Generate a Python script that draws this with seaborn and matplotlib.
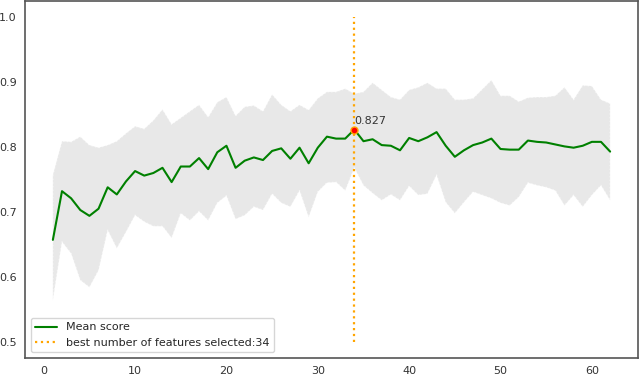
import numpy as np
import pandas as pd
import matplotlib
matplotlib.use('Agg')
import matplotlib.pyplot as plt
import seaborn as sns

# nombre de features testées
n_features = list(range(1, 63))

# score moyen par nombre de features
mean_score = [0.657, 0.732, 0.721, 0.703, 0.694, 0.705, 0.738, 0.727, 0.747, 0.763,
              0.756, 0.760, 0.768, 0.746, 0.770, 0.770, 0.783, 0.766, 0.792, 0.802,
              0.768, 0.779, 0.784, 0.780, 0.794, 0.798, 0.782, 0.799, 0.775, 0.799,
              0.816, 0.813, 0.813, 0.827, 0.809, 0.812, 0.803, 0.802, 0.795, 0.814,
              0.809, 0.815, 0.823, 0.802, 0.785, 0.795, 0.803, 0.807, 0.813, 0.797,
              0.796, 0.796, 0.810, 0.808, 0.807, 0.804, 0.801, 0.799, 0.802, 0.808,
              0.808, 0.793]

# bornes haute et basse (moyenne +/- écart-type)
upper = [0.757, 0.809, 0.808, 0.816, 0.803, 0.799, 0.803, 0.809, 0.821, 0.832,
         0.828, 0.841, 0.858, 0.835, 0.845, 0.855, 0.865, 0.846, 0.869, 0.877,
         0.848, 0.862, 0.864, 0.855, 0.881, 0.865, 0.855, 0.865, 0.857, 0.875,
         0.885, 0.885, 0.890, 0.882, 0.885, 0.899, 0.888, 0.877, 0.873, 0.888,
         0.892, 0.899, 0.890, 0.890, 0.873, 0.873, 0.875, 0.889, 0.903, 0.879,
         0.879, 0.870, 0.876, 0.877, 0.877, 0.879, 0.892, 0.873, 0.895, 0.894,
         0.873, 0.867]
lower = [0.564, 0.654, 0.636, 0.595, 0.584, 0.610, 0.672, 0.644, 0.669, 0.695,
         0.685, 0.678, 0.678, 0.660, 0.698, 0.687, 0.701, 0.687, 0.714, 0.725,
         0.689, 0.695, 0.708, 0.703, 0.728, 0.714, 0.708, 0.733, 0.692, 0.731,
         0.745, 0.746, 0.733, 0.768, 0.741, 0.729, 0.718, 0.727, 0.718, 0.740,
         0.726, 0.728, 0.757, 0.715, 0.698, 0.715, 0.731, 0.726, 0.721, 0.714,
         0.710, 0.723, 0.745, 0.741, 0.738, 0.733, 0.710, 0.726, 0.708, 0.726,
         0.741, 0.718]

best_n = 34
best_score = 0.827

data = pd.DataFrame({'n': n_features, 'score': mean_score, 'haut': upper, 'bas': lower})

sns.set_style('white')
plt.rcParams['font.family'] = ['DejaVu Sans']

fig, ax = plt.subplots(figsize=(6.4, 3.77), dpi=100)
fig.subplots_adjust(left=25/640, right=638/640, top=1-1/377, bottom=1-358/377)

# Bande d'écart-type
ax.fill_between(data['n'], data['bas'], data['haut'], color='lightgrey', alpha=0.5,
                edgecolor='white', linestyle=':', linewidth=1)
# Score moyen
sns.lineplot(x='n', y='score', data=data, color='green', linewidth=1.5, label='Mean score', ax=ax)
# Meilleur nombre de features
ax.vlines(best_n, 0.5, 1.0, colors='orange', linestyles=':', linewidth=1.6,
          label='best number of features selected:' + str(best_n))
ax.scatter([best_n], [best_score], color='red', edgecolor='orange', s=25, zorder=5)
ax.annotate(str(best_score), (best_n, best_score), xytext=(0, 4), textcoords='offset points',
            fontsize=8, color='#333333')

ax.set_xlabel('')
ax.set_ylabel('')
ax.set_xticks([0, 10, 20, 30, 40, 50, 60])
ax.set_yticks([0.5, 0.6, 0.7, 0.8, 0.9, 1.0])
ax.tick_params(labelsize=8, colors='#333333', length=0, pad=6)
for s in ax.spines.values():
    s.set_color('#555555')
    s.set_linewidth(1.2)
ax.legend(loc='lower left', fontsize=8, frameon=True)

plt.savefig('out.png', dpi=100)
